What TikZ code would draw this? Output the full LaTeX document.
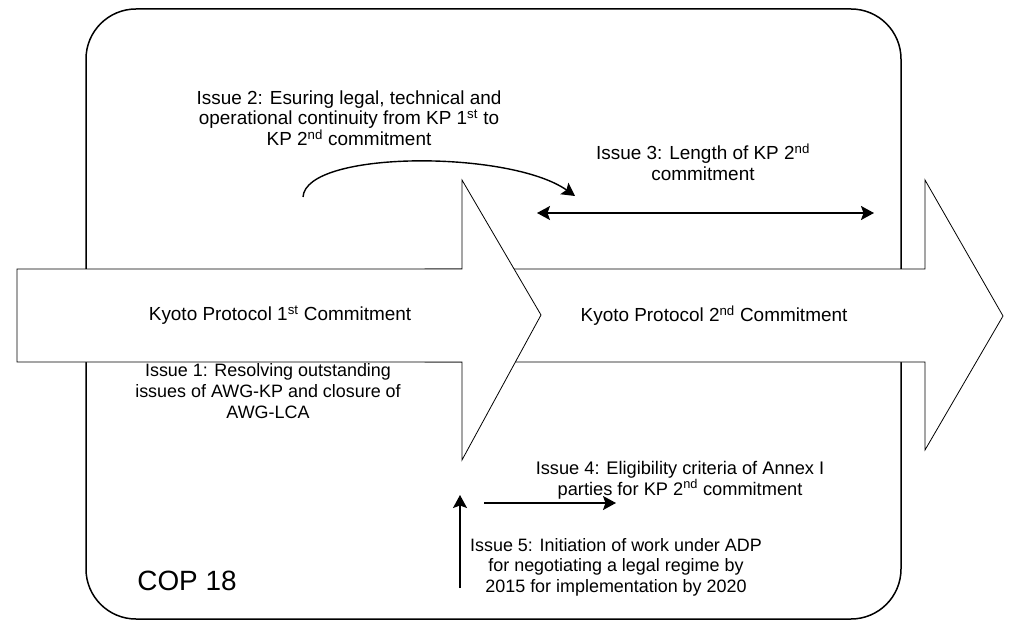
\documentclass[tikz,border=0pt]{standalone}
\usepackage{fontspec}
\setmainfont{Liberation Sans}
\usetikzlibrary{arrows.meta,positioning}
\tikzset{
copbox/.style={
  draw,
  line width=1.5bp,
  rounded corners=50bp},
kparrow/.style={
  draw,
  fill=white,
  line width=0.8bp,
  line join=miter},
issue/.style={
  align=center,
  inner sep=0pt,
  font=\fontsize{#1}{20.7}\selectfont},
issue/.default=18,
kplabel/.style={
  inner sep=0pt,
  font=\fontsize{19}{21}\selectfont},
line/.style={draw, line width=1.4bp, -{Stealth[length=13bp,width=14bp,inset=2.5bp]}},
twoway/.style={draw, line width=1.4bp, {Stealth[length=13bp,width=14bp,inset=2.5bp]}-{Stealth[length=13bp,width=14bp,inset=2.5bp]}}
}
\begin{document}
\begin{tikzpicture}[x=1bp,y=-1bp]
    \useasboundingbox (0,0) rectangle (1011,620);
    \draw[copbox] (86,9) rectangle (901,619);
    \draw[kparrow] (425,269) -- (925,269) -- (925,180) -- (1003,316) -- (925,450) -- (925,362) -- (425,362) -- cycle;
    \draw[kparrow] (17,269) -- (462,269) -- (462,180) -- (541,315) -- (462,460) -- (462,362) -- (17,362) -- cycle;
    \node[kplabel] (kp1) at (280,315) {Kyoto Protocol 1\textsuperscript{st} Commitment};
    \node[kplabel] (kp2) at (714,316) {Kyoto Protocol 2\textsuperscript{nd} Commitment};
    \node[issue=19] (issue2) at (349,118) {Issue 2: Esuring legal, technical and\\operational continuity from KP 1\textsuperscript{st} to\\KP 2\textsuperscript{nd} commitment};
    \node[issue=19] (issue3) at (703,162) {Issue 3: Length of KP 2\textsuperscript{nd}\\commitment};
    \node[issue=18] (issue1) at (268,391) {Issue 1: Resolving outstanding\\issues of AWG-KP and closure of\\AWG-LCA};
    \node[issue=18.3] (issue4) at (680,480) {Issue 4: Eligibility criteria of Annex I\\parties for KP 2\textsuperscript{nd} commitment};
    \node[issue=18] (issue5) at (616,567) {Issue 5: Initiation of work under ADP\\for negotiating a legal regime by\\2015 for implementation by 2020};
    \node[inner sep=0pt, font=\fontsize{28}{32}\selectfont] (cop) at (187,581) {COP 18};
    \coordinate (cont from) at (303,197);
    \coordinate (cont to) at (575,196);
    \coordinate (len left) at (537,213);
    \coordinate (len right) at (874,213);
    \coordinate (adp from) at (460,588);
    \coordinate (adp to) at (460,495);
    \coordinate (elig from) at (484,503);
    \coordinate (elig to) at (616,503);
    \path [line] (cont from) .. controls (306,150) and (510,150) .. (cont to);
    \path [twoway] (len left) -- (len right);
    \path [line] (adp from) -- (adp to);
    \path [line] (elig from) -- (elig to);
\end{tikzpicture}
\end{document}
